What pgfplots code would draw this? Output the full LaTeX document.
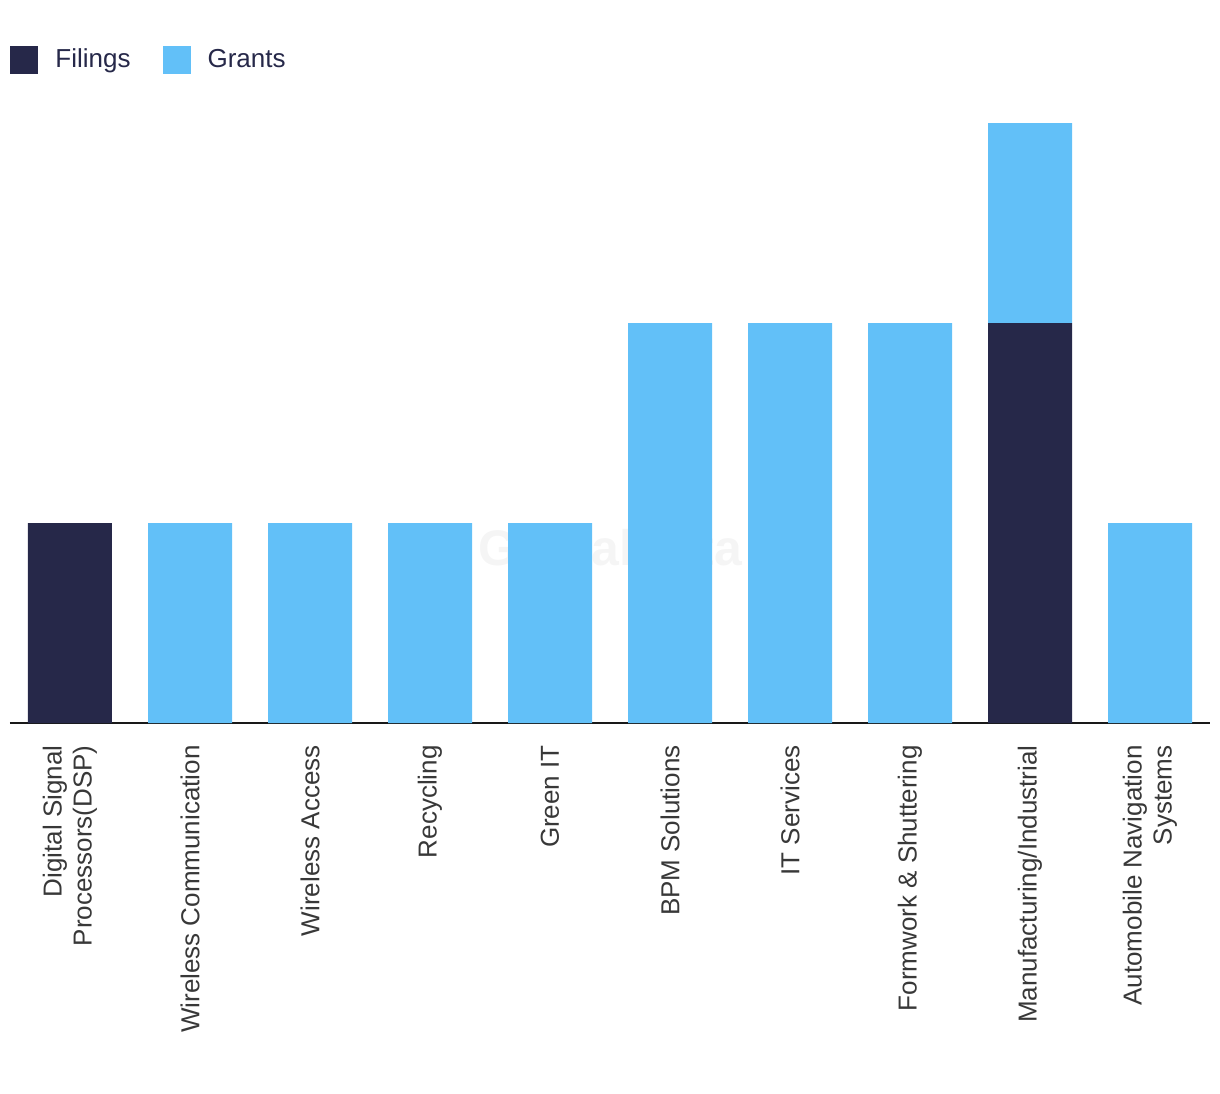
\documentclass[border=0pt]{standalone}
\usepackage{fontspec}
\setmainfont{Liberation Sans}
\usepackage{pgfplots}
\pgfplotsset{compat=1.18}
\definecolor{filings}{HTML}{262849}
\definecolor{grants}{HTML}{62C0F8}
\definecolor{wm}{HTML}{CDCDCD}
\begin{document}
\begin{tikzpicture}
\begin{axis}[
    ybar stacked,
    scale only axis,
    width=600pt, height=300pt,
    xmin=-0.5, xmax=9.5, ymin=0, ymax=3,
    bar width=42pt,
    axis y line=none,
    axis x line*=bottom,
    x axis line style={line width=1pt, color=black!90, -},
    xtick=data,
    xtick style={draw=none},
    xticklabels={{Digital Signal\\Processors(DSP)}, Wireless Communication, Wireless Access, Recycling, Green IT, BPM Solutions, IT Services, {Formwork \& Shuttering}, Manufacturing/Industrial, {Automobile Navigation\\Systems}},
    xticklabel style={rotate=90, anchor=east, align=right, inner sep=0pt, xshift=-11pt, font=\fontsize{13}{15}\selectfont, text=black!78},
    legend columns=2,
    legend style={draw=none, fill=none, inner sep=0pt, at={(0,1.1058)}, anchor=west,
        font=\fontsize{13}{15}\selectfont, text=filings,
        /tikz/every odd column/.append style={column sep=8.5pt},
        /tikz/every even column/.append style={column sep=16pt},
        nodes={inner sep=0pt}},
    legend cell align=left,
    legend image code/.code={\fill[#1] (0pt,-7pt) rectangle (14pt,7pt);},
    clip=false,
]
\addplot[fill=filings, draw=none] coordinates {(0,1) (1,0) (2,0) (3,0) (4,0) (5,0) (6,0) (7,0) (8,2) (9,0)};
\addplot[fill=grants, draw=none] coordinates {(0,0) (1,1) (2,1) (3,1) (4,1) (5,2) (6,2) (7,2) (8,1) (9,1)};
\legend{Filings, Grants}
\node[text=wm, opacity=0.2, font=\bfseries\fontsize{25}{25}\selectfont] at (axis cs:4.5,0.875) {GlobalData};
\coordinate (sw) at (rel axis cs:0,0);
\coordinate (ne) at (rel axis cs:1,1);
\end{axis}
\pgfresetboundingbox
\path[use as bounding box] ([xshift=-5pt,yshift=-185.5pt]sw) rectangle ([xshift=5pt,yshift=61.5pt]ne);
\end{tikzpicture}
\end{document}
